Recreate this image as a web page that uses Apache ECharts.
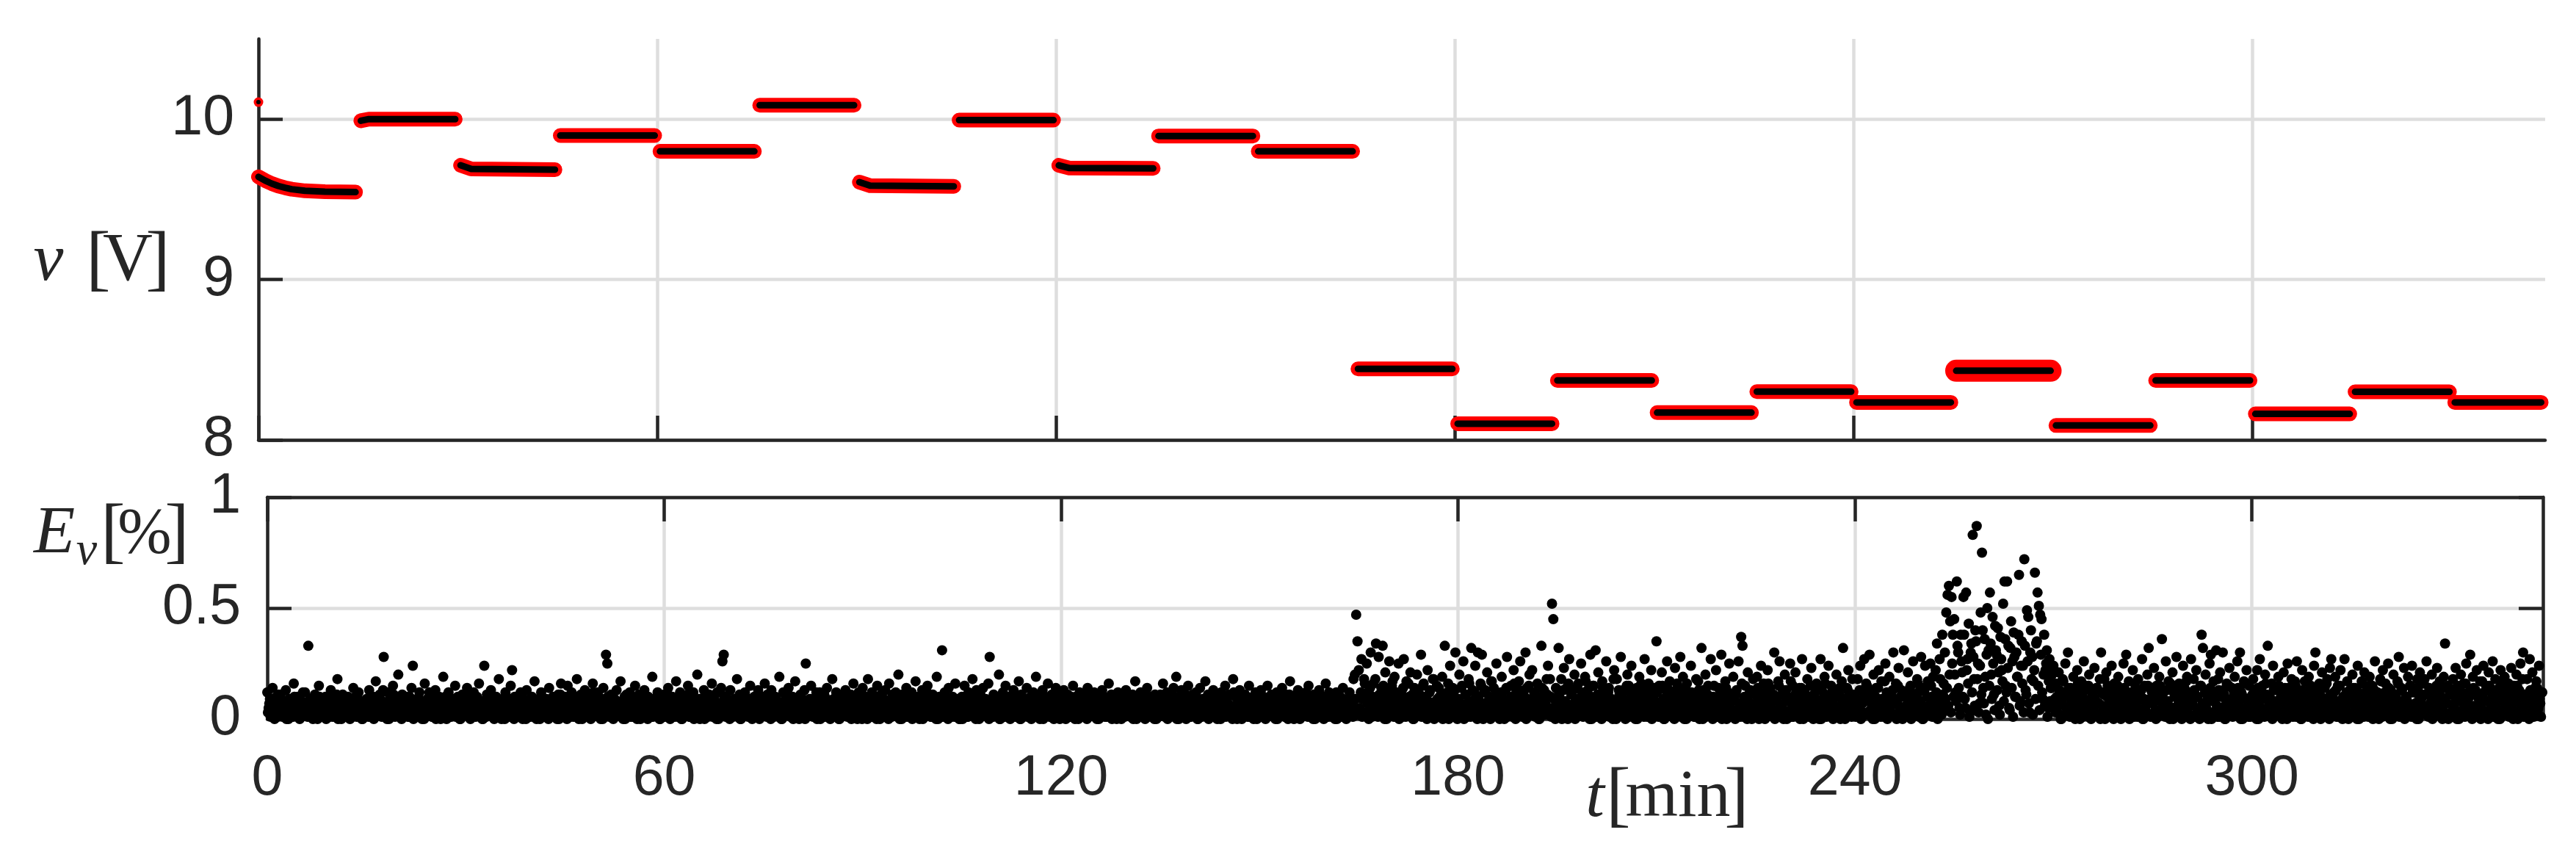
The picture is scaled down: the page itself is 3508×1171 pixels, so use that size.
<!DOCTYPE html>
<html>
<head>
<meta charset="utf-8">
<script src="https://cdn.jsdelivr.net/npm/echarts@6/dist/echarts.min.js"></script>
<style>
html,body{margin:0;padding:0;background:#fff;}
#chart{width:3508px;height:1171px;}
</style>
</head>
<body>
<div id="chart"></div>
<script>
// ---------------- DATA ----------------
// x axis (minutes)
const tMin = 0;
const tMax = 344;
const tTicks = [0, 60, 120, 180, 240, 300];

// top panel: voltage v [V]
const vMin = 8;
const vMax = 10.5;
const vTicks = [8, 9, 10];

// first isolated sample at t = 0
const vInitial = [[0, 10.106]];

// each 15-min step of the voltage ([t, v] points)
const vSeg01 = [[0, 9.640], [1, 9.617], [2, 9.598], [3, 9.583], [4, 9.572], [5, 9.563], [7, 9.553], [10, 9.548], [14.6, 9.545]];
const vSeg02 = [[15.4, 9.990], [16.6, 10.000], [29.6, 10.000]];
const vSeg03 = [[30.4, 9.712], [32.0, 9.690], [44.6, 9.685]];
const vSeg04 = [[45.4, 9.898], [59.6, 9.898]];
const vSeg05 = [[60.4, 9.799], [74.6, 9.799]];
const vSeg06 = [[75.4, 10.087], [89.6, 10.087]];
const vSeg07 = [[90.4, 9.607], [92.0, 9.585], [104.6, 9.581]];
const vSeg08 = [[105.4, 9.994], [119.6, 9.994]];
const vSeg09 = [[120.4, 9.712], [122.0, 9.695], [134.6, 9.693]];
const vSeg10 = [[135.4, 9.895], [149.6, 9.895]];
const vSeg11 = [[150.4, 9.799], [164.6, 9.799]];
const vSeg12 = [[165.4, 8.443], [179.6, 8.443]];
const vSeg13 = [[180.4, 8.101], [194.6, 8.101]];
const vSeg14 = [[195.4, 8.371], [209.6, 8.371]];
const vSeg15 = [[210.4, 8.170], [224.6, 8.170]];
const vSeg16 = [[225.4, 8.301], [239.6, 8.301]];
const vSeg17 = [[240.4, 8.234], [254.6, 8.234]];
const vSeg18 = [[255.4, 8.431], [269.6, 8.431]];
const vSeg19 = [[270.4, 8.090], [284.6, 8.090]];
const vSeg20 = [[285.4, 8.371], [299.6, 8.371]];
const vSeg21 = [[300.4, 8.162], [314.6, 8.162]];
const vSeg22 = [[315.4, 8.300], [329.6, 8.300]];
const vSeg23 = [[330.4, 8.234], [343.4, 8.234]];

// bottom panel: error E_v [%]
const eMin = 0;
const eMax = 1;
const eTicks = [0, 0.5, 1];

// E_v samples in hundredths of a percent, one array per 15-min step.
// "ev.." arrays: samples at segStart + 0.2*j ; "evc.." arrays: samples at segStart + 0.1 + 0.2*j
const evStep = 0.2;
const evCoreOffset = 0.1;
const evSegStart = [0, 15, 30, 45, 60, 75, 90, 105, 120, 135, 150, 165, 180, 195, 210, 225, 240, 255, 270, 285, 300, 315, 330];
const ev01 = [12,5,9,2,14,7,3,10,1,6,11,4,8,2,13, 5,0,9,3,7,16,2,6,10,4,1,8,12,3,6, 2,33,5,9,1,7,11,4,0,15,6,3,8,2,10, 4,7,1,13,5,9,2,6,18,3,8,0,11,5,2, 7,10,3,6,1,14,4,9,2,12,5,8,0,6,3];
const ev02 = [9,3,13,6,1,10,4,17,7,2,11,5,8,28,3, 6,12,0,8,4,15,2,9,5,20,1,7,11,3,6, 10,4,1,8,14,24,5,2,9,6,12,3,0,7,16, 4,9,2,11,6,1,8,13,3,5,10,0,7,19,4, 2,8,12,5,1,9,3,15,6,10,4,0,7,11,2];
const ev03 = [8,14,3,10,5,1,12,6,2,9,16,4,7,0,24, 5,11,2,8,13,3,6,1,10,4,18,7,0,9,3, 12,5,2,8,15,22,4,10,1,6,3,11,7,0,9, 2,13,5,8,1,10,4,17,6,3,9,0,12,5,7, 1,9,4,14,6,2,10,3,8,0,11,5,16,2,7];
const ev04 = [10,4,15,7,1,12,5,9,2,18,6,3,11,0,8, 13,4,7,1,10,5,16,2,8,3,12,6,0,9,14, 4,29,25,7,2,11,5,9,1,13,6,3,17,8,0, 10,4,7,2,12,5,1,9,15,3,6,11,0,8,4, 13,2,7,10,5,1,19,6,3,9,12,4,0,8,5];
const ev05 = [11,5,2,14,8,3,10,6,1,17,4,9,12,0,7, 3,10,5,15,1,8,4,12,6,2,20,7,0,9,5, 13,3,8,1,11,6,16,2,9,4,12,0,7,14,26, 29,5,10,2,7,13,4,1,9,6,18,3,11,0,8, 5,12,2,9,4,15,7,1,10,3,6,13,0,8,4];
const ev06 = [9,16,4,11,2,7,13,5,1,10,3,8,19,6,0, 12,4,9,2,14,6,1,10,5,17,3,8,0,11,7, 4,13,25,6,2,9,15,3,7,1,12,5,10,0,8, 3,11,6,14,1,8,4,18,9,2,12,5,0,7,10, 6,2,13,4,9,1,11,7,16,3,8,0,12,5,2];
const ev07 = [14,6,10,3,18,8,1,12,5,9,2,15,7,0,11, 4,9,13,2,7,16,5,1,10,3,12,6,20,0,8, 11,3,7,14,2,9,5,12,1,8,17,4,10,0,6, 13,5,2,9,15,4,8,1,11,6,3,19,0,10,7, 31,4,12,2,8,14,6,1,10,3,16,5,9,0,7];
const ev08 = [10,3,15,7,1,12,5,9,18,2,8,13,4,0,11, 6,14,2,9,4,16,28,7,1,11,5,10,3,20,0, 8,12,4,15,2,7,10,5,1,13,6,9,3,17,0, 11,5,8,2,14,6,1,10,4,12,7,19,3,9,0, 6,13,2,10,5,16,8,1,11,4,7,14,3,9,0];
const ev09 = [9,4,13,2,7,11,5,1,8,15,3,10,6,0,12, 4,8,2,11,6,14,1,9,3,7,12,5,0,10,2, 7,13,4,1,9,5,16,3,11,6,2,8,0,12,4, 10,3,7,1,13,5,9,2,6,11,4,17,0,8,3, 12,6,2,9,4,14,1,7,10,5,3,11,0,8,6];
const ev10 = [11,5,16,8,2,12,6,1,10,4,14,7,19,3,0, 9,13,5,2,11,7,15,4,1,10,6,3,12,0,8, 14,4,9,2,17,6,11,1,8,5,13,3,10,0,7, 5,12,3,9,15,2,7,11,4,1,18,6,10,0,8, 13,4,9,2,11,6,1,15,7,3,10,5,12,0,9];
const ev11 = [8,13,3,10,5,1,15,7,2,11,4,9,0,12,6, 2,9,14,5,1,11,7,3,17,6,10,0,8,4,13, 5,1,10,7,3,12,6,15,2,9,4,11,0,8,3, 13,6,2,10,4,16,8,1,11,5,3,9,0,12,7, 4,10,2,14,6,1,9,5,12,3,8,18,20,47,35];
const ev12 = [22,4,27,9,18,2,25,12,6,30,1,16,8,34,5, 28,3,14,33,7,21,0,11,26,5,15,2,19,9,4, 25,6,12,1,27,8,17,3,10,21,5,0,14,7,20, 2,11,29,4,16,9,1,22,6,13,3,18,0,8,15, 5,10,2,19,7,33,3,12,0,24,6,14,1,30,9];
const ev13 = [8,20,3,15,26,5,11,1,18,7,32,13,2,24,9, 30,4,16,29,0,12,6,21,3,10,17,1,14,7,25, 2,11,5,19,8,0,13,28,4,9,15,1,22,6,12, 3,17,26,7,10,1,30,14,5,20,8,22,2,11,6, 16,0,9,33,4,13,7,18,24,2,10,52,45,5,14];
const ev14 = [10,32,5,18,2,23,8,14,0,27,6,12,3,20,9, 1,16,7,25,4,11,19,2,13,6,29,0,15,8,31, 3,21,10,5,17,1,12,26,7,14,4,9,0,22,6, 18,2,11,28,5,13,8,1,20,15,3,24,10,6,0, 14,7,19,2,12,4,27,9,1,16,6,22,3,11,8];
const ev15 = [35,6,15,2,21,9,0,13,26,4,17,8,1,11,23, 5,14,3,28,7,19,0,10,16,2,12,24,6,9,1, 18,4,13,7,32,0,11,20,3,15,8,27,2,10,5, 22,1,14,6,29,9,3,17,0,12,25,5,8,19,2, 11,4,26,7,37,33,1,15,9,21,3,13,0,18,6];
const ev16 = [7,19,2,12,24,5,16,0,10,22,3,14,8,1,30, 9,4,17,26,6,11,0,20,13,3,8,25,1,15,5, 21,10,2,14,7,27,0,12,4,18,9,1,23,6,11, 3,16,8,0,27,13,5,19,2,10,24,7,15,1,12, 6,20,4,11,0,17,32,9,2,14,22,5,8,18,3];
const ev17 = [10,3,18,6,24,1,13,27,8,15,2,29,11,5,20, 0,14,7,22,3,17,9,1,25,12,4,19,6,10,30, 2,16,8,23,5,13,0,31,11,4,21,7,15,1,26, 9,3,18,12,6,28,0,14,24,5,17,2,25,10,19, 7,22,34,11,27,4,38,16,30,48,56,60,44,55,38];
const ev18 = [45,12,62,30,5,38,21,55,9,57,27,43,3,34,83, 18,40,87,25,7,48,75,14,36,2,50,31,57,20,46, 11,42,29,41,6,37,22,52,62,15,62,33,4,44,26, 39,10,30,19,65,8,35,24,72,13,49,46,3,40,28, 17,66,34,57,51,47,45,9,38,22,31,5,27,14,20];
const ev19 = [24,9,16,3,21,12,0,18,6,25,11,30,4,14,8, 19,2,13,22,7,0,17,10,26,5,15,1,20,9,12, 3,23,8,14,1,18,30,6,11,0,21,15,4,10,24, 7,16,2,13,19,5,0,12,25,9,29,3,17,6,11, 22,1,14,8,18,4,10,27,0,15,6,20,32,9,13];
const ev20 = [10,23,4,15,1,19,8,36,12,2,26,7,17,0,13, 21,5,11,28,3,16,9,0,24,14,6,19,2,12,27, 8,18,1,22,10,4,15,38,32,6,20,11,0,25,29, 3,17,9,31,1,13,21,5,30,11,0,16,7,23,4, 14,2,19,9,26,6,30,12,0,17,5,22,8,15,1];
const ev21 = [7,18,3,12,22,0,27,9,15,4,20,11,33,6,1, 16,24,8,2,13,19,5,10,0,21,14,3,25,7,11, 18,1,9,15,26,4,12,0,22,6,17,10,2,19,8, 13,3,24,30,11,5,16,0,21,9,14,2,18,7,23, 27,4,12,19,1,15,8,22,6,10,27,3,17,0,13];
const ev22 = [9,20,2,14,6,24,0,11,17,4,21,8,13,1,19, 5,15,10,26,3,12,0,18,7,22,2,16,9,25,4, 13,0,20,6,11,17,28,3,14,8,23,1,10,19,5, 15,24,2,12,7,18,0,21,9,4,16,11,26,3,14, 6,20,1,13,8,23,4,17,10,0,19,34,7,15,2];
const ev23 = [11,3,18,7,23,0,14,9,20,4,16,1,25,8,12, 29,5,19,2,13,22,6,10,0,17,24,3,15,8,21, 1,12,26,5,18,9,0,14,22,4,11,19,7,2,16, 10,23,3,15,8,20,0,13,25,6,30,11,2,18,5, 27,9,21,1,14,17,4,24,7,12];

const evc01 = [3,7,1,9,4,0,6,2,11,5,8,1,3,7,0, 4,9,2,6,1,10,3,5,8,0,7,2,4,12,6, 1,5,9,3,0,7,2,6,4,10,1,8,3,5,0, 6,2,9,4,1,7,3,11,0,5,8,2,6,1,4, 9,3,0,7,2,5,10,1,6,4,8,0,3,7,2];
const evc02 = [5,1,8,3,10,0,6,4,2,9,7,1,13,3,5, 0,8,2,6,4,11,1,7,3,9,5,0,2,6,8, 4,1,10,3,7,0,5,2,9,6,1,4,8,0,3, 7,2,12,5,1,9,4,0,6,3,8,2,5,1,10, 0,7,3,6,2,9,4,1,8,5,0,3,11,2,6];
const evc03 = [2,9,4,0,7,3,6,1,10,5,2,8,0,4,7, 1,6,3,11,2,5,0,9,4,7,1,3,8,6,0, 10,2,5,1,7,4,0,9,3,6,2,12,1,5,8, 0,4,7,2,9,3,1,6,0,8,5,2,10,4,1, 7,3,0,6,9,2,5,1,8,4,0,11,3,6,2];
const evc04 = [6,0,4,9,2,7,1,5,3,10,0,8,4,2,6, 1,9,3,7,0,5,12,2,6,4,1,8,3,0,7, 5,2,10,1,4,6,0,9,3,7,2,5,1,8,4, 0,11,6,3,1,7,2,9,5,0,4,8,1,6,3, 2,10,0,5,7,3,1,9,4,6,2,0,8,3,5];
const evc05 = [1,8,3,6,0,10,4,2,7,5,1,9,3,0,6, 4,2,11,7,1,5,8,0,3,6,2,9,4,1,7, 0,5,3,10,2,6,1,8,4,0,7,3,12,5,2, 9,1,6,4,0,8,2,5,3,7,1,10,0,4,6, 2,8,5,1,3,9,0,6,4,7,2,11,1,5,3];
const evc06 = [4,10,1,6,3,0,8,5,2,9,7,1,4,0,6, 3,11,2,8,5,1,7,0,4,9,2,6,3,10,1, 5,0,7,4,2,9,6,1,3,8,0,5,12,2,7, 4,1,9,3,6,0,8,2,5,1,7,4,0,10,3, 6,2,8,1,5,3,0,9,4,7,2,6,1,11,0];
const evc07 = [7,2,5,0,9,3,6,1,8,4,0,10,2,5,3, 8,1,6,4,0,7,2,11,5,3,9,1,4,6,0, 2,8,5,1,10,3,7,0,4,6,2,9,1,5,3, 0,7,4,12,2,6,1,8,3,5,0,9,4,2,7, 1,6,3,10,0,5,8,2,4,1,7,3,6,0,9];
const evc08 = [0,6,3,9,1,5,8,2,4,7,0,11,3,6,1, 9,4,2,7,5,0,8,3,1,10,6,2,4,0,7, 3,9,1,5,2,8,0,6,4,12,1,3,7,5,0, 8,2,6,4,1,9,3,0,5,7,2,10,1,4,6, 3,0,8,2,5,7,1,9,4,0,6,3,11,2,5];
const evc09 = [6,2,8,0,4,7,1,10,3,5,0,9,2,6,4, 1,7,3,11,0,5,8,2,6,4,1,9,3,0,7, 5,2,10,4,1,6,3,8,0,5,2,9,4,7,1, 0,6,3,12,2,8,4,1,5,0,9,3,6,2,7, 4,1,8,0,5,10,3,6,2,7,0,4,9,1,3];
const evc10 = [2,5,9,1,7,0,4,8,3,6,1,10,0,5,7, 3,2,8,4,0,9,6,1,5,11,2,7,3,0,4, 8,1,6,2,9,5,0,3,7,4,10,1,6,2,8, 0,5,3,7,1,9,4,2,6,0,12,3,5,1,8, 4,0,7,2,6,3,9,1,5,8,0,4,2,10,6];
const evc11 = [8,1,4,6,0,9,3,5,2,7,1,10,4,0,6, 3,8,2,5,1,7,0,11,4,6,2,9,3,1,5, 0,7,4,8,2,6,1,10,3,5,0,9,2,4,7, 1,6,3,0,8,5,2,12,4,1,7,3,6,0,9, 2,5,1,8,4,0,7,3,10,6,1,5,9,2,4];
const evc12 = [5,12,1,9,16,3,7,0,14,4,10,2,18,6,1, 11,3,8,15,0,5,13,2,9,6,17,1,4,12,7, 0,10,3,14,5,1,8,16,2,6,11,0,4,9,13, 3,7,1,15,5,10,0,8,12,2,6,18,4,1,9, 14,3,7,0,11,5,2,16,8,1,10,4,13,6,0];
const evc13 = [9,2,14,5,0,11,7,3,16,1,8,4,12,6,0, 10,3,15,2,7,13,1,5,9,0,17,4,8,2,11, 6,0,12,3,9,5,14,1,7,4,10,2,16,0,8, 3,13,6,1,11,4,0,9,15,2,7,5,12,1,6, 10,0,4,14,8,2,6,11,3,18,1,5,9,0,7];
const evc14 = [3,10,6,0,13,8,1,5,16,2,11,4,7,0,14, 2,9,5,12,1,6,17,3,8,0,10,4,15,7,1, 11,3,6,0,14,9,2,5,12,1,8,4,18,6,0, 7,13,2,10,3,5,0,15,8,1,11,4,6,2,12, 0,9,3,16,5,1,7,13,2,10,4,0,8,14,6];
const evc15 = [12,1,7,4,15,0,9,3,6,13,2,10,5,0,8, 16,3,11,1,6,4,14,0,9,2,7,12,5,1,10, 3,17,0,8,4,13,6,1,11,2,9,5,0,15,7, 2,10,4,12,0,6,3,14,8,1,5,11,2,9,0, 13,4,7,1,16,3,10,5,0,8,12,2,6,4,11];
const evc16 = [6,14,0,10,3,8,1,12,5,16,2,7,4,11,0, 9,3,15,6,1,13,4,8,0,10,2,17,5,1,7, 12,3,9,0,14,6,2,11,4,8,1,15,3,0,10, 5,13,2,7,0,9,4,16,1,6,11,3,8,0,12, 2,10,5,14,1,7,3,0,9,13,4,6,1,11,3];
const evc17 = [1,9,5,13,0,7,3,11,16,2,8,4,12,0,6, 10,2,14,5,1,9,3,17,7,0,11,4,6,13,2, 8,0,15,3,10,5,1,12,6,9,2,14,0,4,11, 7,3,16,1,8,5,0,13,2,10,6,4,15,1,9, 3,12,0,7,18,2,11,5,9,14,6,20,3,25,10];
const evc18 = [20,8,33,14,2,26,10,38,5,22,16,1,30,12,28, 6,35,18,3,24,11,40,7,19,29,0,15,34,9,25, 4,31,13,21,2,27,17,8,36,12,23,5,32,14,1, 28,10,19,38,6,24,16,3,33,11,26,7,30,18,2, 22,9,35,15,4,29,12,20,6,25,1,17,8,14,5];
const evc19 = [15,3,10,6,13,0,8,17,2,11,5,14,1,9,4, 12,0,7,16,3,10,5,1,13,8,2,15,6,0,11, 4,9,14,2,7,0,12,5,18,3,10,1,8,13,6, 0,11,4,15,2,9,6,1,14,3,8,12,0,5,10, 2,16,7,1,11,4,13,0,9,6,3,15,8,1,12];
const evc20 = [7,12,0,9,4,15,2,11,6,1,13,8,3,16,5, 0,10,4,14,7,2,12,1,9,5,17,3,8,0,11, 6,13,2,10,4,0,15,7,1,12,5,9,3,14,0, 8,2,11,6,18,1,10,4,13,0,7,3,15,5,9, 1,12,6,2,14,8,0,11,4,16,3,9,1,7,10];
const evc21 = [11,4,8,0,14,6,2,12,9,1,16,5,3,10,7, 0,13,4,8,2,15,6,1,11,3,9,0,14,5,12, 2,7,17,1,10,4,8,0,13,6,3,11,1,9,15, 5,0,12,7,2,14,4,10,1,8,6,16,3,0,11, 5,9,2,13,7,1,15,4,0,10,6,12,3,8,2];
const evc22 = [2,14,6,10,0,12,4,8,16,1,7,11,3,15,5, 9,0,13,6,2,10,4,17,1,8,12,3,5,14,0, 7,11,2,9,4,16,1,6,13,3,0,10,8,5,15, 1,12,4,7,0,14,9,2,11,5,18,3,6,1,13, 8,0,10,4,15,2,12,6,1,9,3,14,7,0,11];
const evc23 = [13,6,1,10,4,15,0,8,12,3,7,16,2,9,5, 11,0,14,6,1,10,3,17,7,4,12,2,8,0,15, 5,9,1,13,6,3,11,0,16,4,8,2,14,7,1, 10,5,0,12,3,15,9,2,6,18,1,11,4,8,0, 13,7,3,10,2,14,5,9,1,12];

// ---------------- BUILD ----------------
const vSegments = [vSeg01, vSeg02, vSeg03, vSeg04, vSeg05, vSeg06, vSeg07, vSeg08, vSeg09, vSeg10, vSeg11, vSeg12,
  vSeg13, vSeg14, vSeg15, vSeg16, vSeg17, vSeg18, vSeg19, vSeg20, vSeg21, vSeg22, vSeg23];
function joinSegments(segs) {
  const out = [];
  segs.forEach((s, i) => {
    if (i > 0) out.push(['-', '-']);
    s.forEach(p => out.push(p));
  });
  return out;
}
const vLineAll = joinSegments(vSegments);
const vLineNoisy = joinSegments([vSeg18]);

const evSegments = [ev01, ev02, ev03, ev04, ev05, ev06, ev07, ev08, ev09, ev10, ev11, ev12,
  ev13, ev14, ev15, ev16, ev17, ev18, ev19, ev20, ev21, ev22, ev23];
const evCoreSegments = [evc01, evc02, evc03, evc04, evc05, evc06, evc07, evc08, evc09, evc10, evc11, evc12,
  evc13, evc14, evc15, evc16, evc17, evc18, evc19, evc20, evc21, evc22, evc23];
const evData = [];
evCoreSegments.forEach((arr, k) => {
  arr.forEach((e, j) => evData.push([evSegStart[k] + evCoreOffset + j * evStep, e / 100]));
});
evSegments.forEach((arr, k) => {
  arr.forEach((e, j) => evData.push([evSegStart[k] + j * evStep, e / 100]));
});

// ---------------- STYLE ----------------
const AX = '#262626';
const GRIDC = '#dedede';
const LW = 4.5;
const TICKFONT = {fontFamily: '"Liberation Sans", Arial, Helvetica, sans-serif', fontSize: 77, color: AX};
const SERIF = '"Liberation Serif", "Times New Roman", serif';

function splitAxis(extra) {
  return Object.assign({
    type: 'value', z: 0,
    axisLine: {show: false},
    axisTick: {show: false},
    axisLabel: {show: false},
    splitLine: {show: true, lineStyle: {color: GRIDC, width: LW}}
  }, extra);
}
function frameAxis(extra, ticks, labels, margin) {
  return Object.assign({
    type: 'value', z: 1,
    axisLine: {show: true, onZero: false, lineStyle: {color: AX, width: LW}},
    axisTick: {show: true, inside: true, length: 33, customValues: ticks, lineStyle: {color: AX, width: LW}},
    axisLabel: labels ? Object.assign({show: true, customValues: ticks, margin: margin}, TICKFONT) : {show: false},
    splitLine: {show: false}
  }, extra);
}

function txt(str, cx, baseline, size, italic) {
  return {
    type: 'text', x: cx, y: baseline - 0.3375 * size + 11, silent: true, z: 10,
    style: {
      text: str, fill: AX, fontFamily: SERIF, fontSize: size, fontStyle: italic ? 'italic' : 'normal',
      align: 'center', verticalAlign: 'middle', textAlign: 'center', textVerticalAlign: 'middle'
    }
  };
}

const option = {
  animation: false,
  backgroundColor: '#ffffff',
  grid: [
    {left: 352, top: 53, right: 42, bottom: 572, containLabel: false, outerBoundsMode: 'none'},
    {left: 364, top: 677, right: 45, bottom: 192, containLabel: false, outerBoundsMode: 'none'}
  ],
  xAxis: [
    splitAxis({gridIndex: 0, position: 'bottom', min: tMin, max: tMax, axisTick: {show: false, customValues: tTicks}}),
    frameAxis({gridIndex: 0, position: 'bottom', min: tMin, max: tMax}, tTicks, false),
    splitAxis({gridIndex: 1, position: 'bottom', min: tMin, max: tMax, axisTick: {show: false, customValues: tTicks}}),
    frameAxis({gridIndex: 1, position: 'bottom', min: tMin, max: tMax}, tTicks, true, 43),
    frameAxis({gridIndex: 1, position: 'top', min: tMin, max: tMax}, tTicks, false)
  ],
  yAxis: [
    splitAxis({gridIndex: 0, position: 'left', min: vMin, max: vMax, axisTick: {show: false, customValues: vTicks}}),
    frameAxis({gridIndex: 0, position: 'left', min: vMin, max: vMax}, vTicks, true, 33),
    splitAxis({gridIndex: 1, position: 'left', min: eMin, max: eMax, axisTick: {show: false, customValues: eTicks}}),
    frameAxis({gridIndex: 1, position: 'left', min: eMin, max: eMax}, eTicks, true, 36),
    frameAxis({gridIndex: 1, position: 'right', min: eMin, max: eMax}, eTicks, false)
  ],
  series: [
    {type: 'line', name: 'v measured', xAxisIndex: 0, yAxisIndex: 0, data: vLineAll, symbol: 'none', connectNulls: false,
      lineStyle: {color: '#ff0000', width: 20, cap: 'round', join: 'round', opacity: 1}, z: 2, silent: true},
    {type: 'line', name: 'v measured (noisy step)', xAxisIndex: 0, yAxisIndex: 0, data: vLineNoisy, symbol: 'none',
      lineStyle: {color: '#ff0000', width: 30, cap: 'round', join: 'round', opacity: 1}, z: 2, silent: true},
    {type: 'line', name: 'v estimated', xAxisIndex: 0, yAxisIndex: 0, data: vLineAll, symbol: 'none', connectNulls: false,
      lineStyle: {color: '#000000', width: 9, cap: 'round', join: 'round', opacity: 1}, z: 3, silent: true},
    {type: 'scatter', xAxisIndex: 0, yAxisIndex: 0, data: vInitial, symbol: 'circle', symbolSize: 13,
      itemStyle: {color: '#ff0000', opacity: 1}, z: 4, silent: true, clip: false},
    {type: 'scatter', xAxisIndex: 0, yAxisIndex: 0, data: vInitial, symbol: 'circle', symbolSize: 6,
      itemStyle: {color: '#000000', opacity: 1}, z: 5, silent: true, clip: false},
    {type: 'scatter', name: 'E_v', xAxisIndex: 2, yAxisIndex: 2, data: evData, symbol: 'circle', symbolSize: 14,
      itemStyle: {color: '#000000', opacity: 1}, z: 3, silent: true, clip: false, large: false,
      progressive: 0, largeThreshold: 100000}
  ],
  graphic: [
    // v [V]
    txt('v', 66, 377, 92, true),
    txt('[', 134, 380, 100, false),
    txt('V', 174, 377, 94, false),
    txt(']', 215, 380, 100, false),
    // E_v[%]
    txt('E', 74, 748, 92, true),
    txt('v', 118, 762, 64, true),
    txt('[', 154, 751, 100, false),
    txt('%', 197, 748, 88, false),
    txt(']', 241, 751, 100, false),
    // t[min]
    txt('t', 2172, 1107, 92, true),
    txt('[', 2204, 1110, 100, false),
    txt('min', 2285, 1107, 92, false),
    txt(']', 2365, 1110, 100, false)
  ]
};

const chart = echarts.init(document.getElementById('chart'), null, {renderer: 'canvas', width: 3508, height: 1171});
chart.setOption(option);
</script>
</body>
</html>
